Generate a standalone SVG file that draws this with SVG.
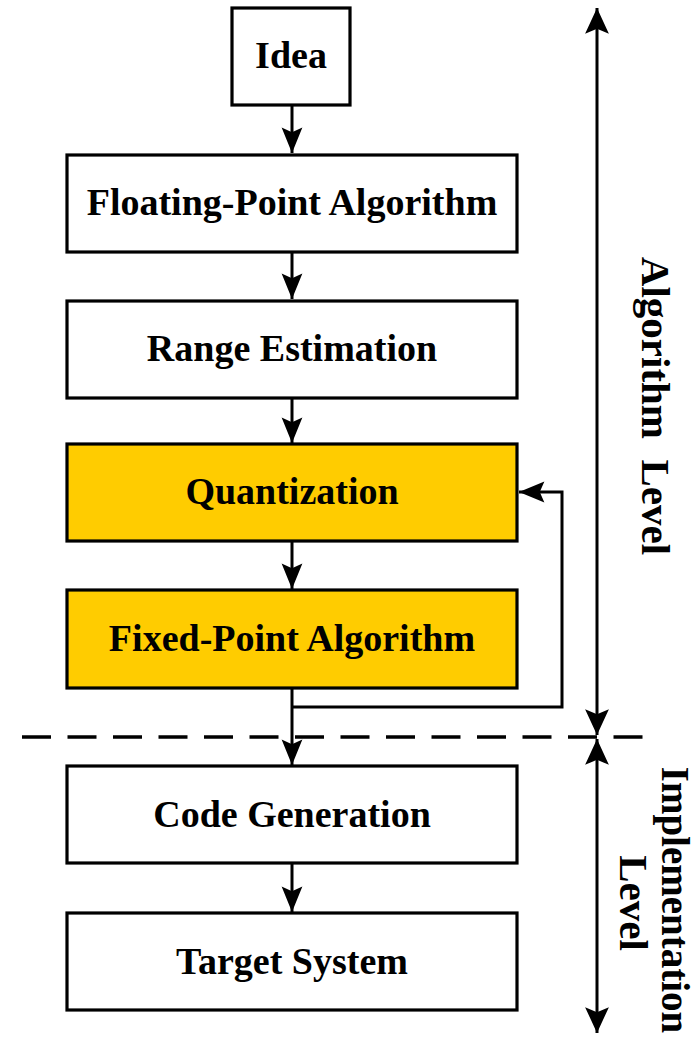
<svg xmlns="http://www.w3.org/2000/svg" width="697" height="1041" viewBox="0 0 697 1041">
<style>
.box{fill:#ffffff;stroke:#000;stroke-width:3.2}
.hl{fill:#FFCC00}
.lbl{font-family:"Liberation Serif","Times New Roman",serif;font-weight:bold;font-size:38px;fill:#000;text-anchor:middle}
.side{font-family:"Liberation Serif","Times New Roman",serif;font-weight:bold;font-size:41px;fill:#000;text-anchor:middle}
.ln{fill:none;stroke:#000;stroke-width:3}
</style>
<defs>
<marker id="ah" markerUnits="userSpaceOnUse" markerWidth="30" markerHeight="30" viewBox="-24 -12 26 24" refX="0" refY="0" orient="auto">
<path d="M0,0 L-22,-9 L-18,0 L-22,9 Z" fill="#000"/>
</marker>
<marker id="ahb" markerUnits="userSpaceOnUse" markerWidth="30" markerHeight="30" viewBox="-27 -14 29 28" refX="0" refY="0" orient="auto-start-reverse">
<path d="M0,0 L-25,-11.5 L-20,0 L-25,11.5 Z" fill="#000"/>
</marker>
</defs>
<g id="connectors">
<line class="ln" x1="292" y1="105" x2="292" y2="153" marker-end="url(#ah)"/>
<line class="ln" x1="292" y1="252" x2="292" y2="299" marker-end="url(#ah)"/>
<line class="ln" x1="292" y1="398" x2="292" y2="443" marker-end="url(#ah)"/>
<line class="ln" x1="292" y1="541" x2="292" y2="589" marker-end="url(#ah)"/>
<line class="ln" x1="292" y1="688" x2="292" y2="765" marker-end="url(#ah)"/>
<path class="ln" d="M292,707 H562 V492 H519" marker-end="url(#ah)"/>
<line class="ln" x1="292" y1="863" x2="292" y2="912" marker-end="url(#ah)"/>
</g>
<g id="separator">
<line x1="22" y1="737" x2="643" y2="737" stroke="#000" stroke-width="3.5" stroke-dasharray="29 16.5"/>
</g>
<g id="level-arrows">
<line class="ln" x1="597" y1="8" x2="597" y2="735" marker-start="url(#ahb)" marker-end="url(#ahb)"/>
<line class="ln" x1="597" y1="739" x2="597" y2="1033" marker-start="url(#ahb)" marker-end="url(#ahb)"/>
</g>
<g id="idea"><rect class="box" x="232" y="8" width="118" height="97"/><text class="lbl" x="291" y="68">Idea</text></g>
<g id="floating"><rect class="box" x="67" y="155" width="450" height="97"/><text class="lbl" x="292" y="215">Floating-Point Algorithm</text></g>
<g id="range"><rect class="box" x="67" y="301" width="450" height="97"/><text class="lbl" x="292" y="361">Range Estimation</text></g>
<g id="quant"><rect class="box hl" x="67" y="444" width="450" height="97"/><text class="lbl" x="292" y="504">Quantization</text></g>
<g id="fixed"><rect class="box hl" x="67" y="590" width="450" height="98"/><text class="lbl" x="292" y="651">Fixed-Point Algorithm</text></g>
<g id="codegen"><rect class="box" x="67" y="766" width="450" height="97"/><text class="lbl" x="292" y="827">Code Generation</text></g>
<g id="target"><rect class="box" x="67" y="913" width="450" height="97"/><text class="lbl" x="292" y="974">Target System</text></g>
<g id="algo-level"><text class="side" transform="translate(642,406) rotate(90)" x="0" y="0" xml:space="preserve">Algorithm  Level</text></g>
<g id="impl-level">
<text class="side" transform="translate(662,900) rotate(90)" x="0" y="0" style="font-size:39px">Implementation</text>
<text class="side" transform="translate(620,903) rotate(90)" x="0" y="0">Level</text>
</g>
</svg>
